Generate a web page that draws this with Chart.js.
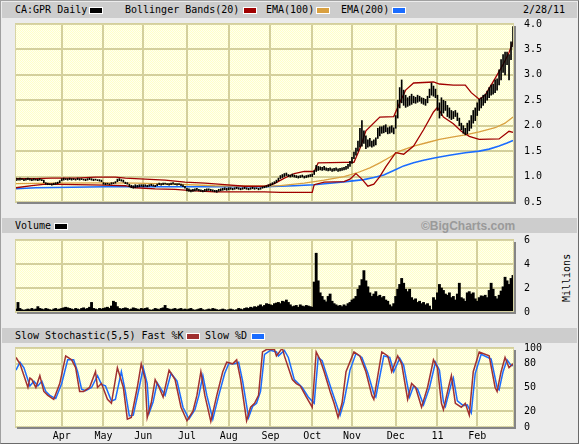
<!DOCTYPE html>
<html><head><meta charset="utf-8">
<script src="https://cdn.jsdelivr.net/npm/chart.js@4/dist/chart.umd.min.js"></script>
<style>
html,body{margin:0;padding:0;background:#ececec;}
#wrap{position:relative;width:579px;height:444px;background:#ececec;box-sizing:border-box;border:1px solid #a0a0a0;border-right-color:#6a6a6a;border-bottom-color:#6a6a6a;overflow:hidden;font-family:"DejaVu Sans Mono",monospace;font-size:10px;color:#000;}
.bar{position:absolute;left:1px;width:575px;background:#cdcdcd;}
.t{position:absolute;white-space:pre;line-height:12px;}
.sw{position:absolute;width:12px;height:5px;outline:1px solid #fff;}
canvas{position:absolute;left:-1px;}
</style></head>
<body><div id="wrap">
<div class="bar" style="top:1px;height:16px"></div>
<div class="bar" style="top:217px;height:15px"></div>
<div class="bar" style="top:327px;height:15px"></div>

<div class="t" style="left:14px;top:3px">CA:GPR Daily</div>
<div class="sw" style="left:89px;top:7px;background:#000"></div>
<div class="t" style="left:124px;top:3px">Bollinger Bands(20)</div>
<div class="sw" style="left:243px;top:7px;background:#a00000"></div>
<div class="t" style="left:265px;top:3px">EMA(100)</div>
<div class="sw" style="left:316px;top:7px;background:#d9a040"></div>
<div class="t" style="left:340px;top:3px">EMA(200)</div>
<div class="sw" style="left:392px;top:7px;background:#1a6cff"></div>
<div class="t" style="left:522px;top:3px">2/28/11</div>

<div class="t" style="left:14px;top:219px">Volume</div>
<div class="sw" style="left:54px;top:223px;background:#000"></div>
<div class="t" style="left:420px;top:218px;width:94px;text-align:right;font-family:'Liberation Sans',Arial,sans-serif;font-weight:bold;font-size:12px;color:#9a9a9a;line-height:14px">©BigCharts.com</div>

<div class="t" style="left:14px;top:329px">Slow Stochastic(5,5) Fast %K</div>
<div class="sw" style="left:186px;top:333px;background:#a03030"></div>
<div class="t" style="left:204px;top:329px">Slow %D</div>
<div class="sw" style="left:251px;top:333px;background:#1a6cff"></div>

<div class="t" style="left:542px;top:271px;transform:rotate(-90deg);transform-origin:24px 6px;width:48px">Millions</div>

<canvas id="c1" width="579" height="218" style="top:-1px"></canvas>
<canvas id="c2" width="579" height="110" style="top:217px"></canvas>
<canvas id="c3" width="579" height="116" style="top:327px"></canvas>
</div>
<script>
// ---- axis labels (trading-day index of each month start, Mar 1 2010 = 0) ----
const monthIdx = [23,44,64,86,107,128,149,169,191,212,232];
const monthLbl = ['Apr','May','Jun','Jul','Aug','Sep','Oct','Nov','Dec','11','Feb'];
const priceTicks = [0.5,1.0,1.5,2.0,2.5,3.0,3.5,4.0];
const volTicks = [0,2,4,6];
const stochTicks = [0,20,50,80,100];

// ---- daily price lows / highs ----
const priceLow = [
 .92,.93,.93,.94,.92,.93,.94,.93,.92,.93,.93,.92,.93,.92,.88,.85,.84,.84,.83,.84,.85,.86,.88,
 .92,.93,.94,.93,.94,.93,.94,.93,.94,.93,.94,.93,.92,.93,.94,.93,.92,.93,.92,.91,.90,
 .85,.84,.85,.84,.85,.86,.87,.90,.92,.91,.89,.86,.85,.80,.78,.77,.78,.79,.80,.81,
 .80,.81,.80,.81,.82,.81,.80,.82,.84,.83,.84,.85,.84,.83,.84,.85,.84,.83,.84,.82,.80,.77,
 .72,.71,.70,.71,.72,.73,.72,.71,.70,.71,.72,.73,.72,.71,.70,.69,.71,.72,.73,.74,.73,
 .74,.75,.74,.75,.76,.75,.74,.75,.76,.75,.74,.75,.76,.75,.76,.74,.75,.77,.78,.79,.80,
 .82,.84,.86,.88,.92,.96,.98,1.00,1.02,1.00,.99,1.00,.99,.98,.97,.98,.99,.97,.98,.99,1.00,
 1.00,1.04,1.10,1.12,1.13,1.12,1.13,1.12,1.11,1.12,1.10,1.11,1.12,1.10,1.11,1.12,1.13,1.14,1.16,1.20,
 1.26,1.35,1.42,1.50,1.58,1.60,1.65,1.55,1.58,1.60,1.58,1.60,1.62,1.75,1.80,1.85,1.86,1.88,1.84,1.85,1.87,1.84,
 1.95,2.15,2.35,2.45,2.40,2.36,2.38,2.40,2.42,2.45,2.44,2.46,2.48,2.44,2.42,2.40,2.45,2.55,2.60,2.58,2.55,
 2.30,2.15,2.20,2.25,2.30,2.18,2.15,2.12,2.14,2.18,2.10,2.00,1.92,1.85,1.82,1.84,1.90,1.95,2.05,2.10,
 2.20,2.30,2.35,2.40,2.45,2.50,2.55,2.60,2.62,2.65,2.70,2.80,2.90,3.05,3.00,3.20,2.90,3.30,3.55
];
const priceHigh = [
 .97,.96,.97,.96,.95,.96,.97,.96,.95,.96,.95,.95,.96,.94,.93,.88,.87,.86,.86,.87,.88,.89,.92,
 .96,.97,.96,.96,.97,.96,.96,.95,.97,.96,.96,.95,.95,.96,.97,.96,.95,.95,.94,.94,.93,
 .88,.87,.87,.86,.88,.88,.90,.95,.96,.94,.93,.89,.88,.85,.83,.82,.84,.83,.84,.84,
 .84,.84,.83,.84,.85,.84,.83,.85,.87,.86,.87,.87,.86,.86,.87,.88,.86,.86,.86,.85,.84,.81,
 .77,.76,.74,.75,.76,.77,.75,.74,.73,.75,.76,.76,.75,.74,.73,.73,.75,.76,.77,.78,.77,
 .78,.78,.77,.78,.79,.78,.77,.78,.79,.78,.77,.78,.79,.78,.78,.77,.78,.80,.81,.82,.84,
 .86,.88,.90,.93,.97,1.02,1.04,1.06,1.07,1.04,1.03,1.05,1.03,1.02,1.01,1.02,1.03,1.01,1.02,1.03,1.04,
 1.05,1.12,1.22,1.20,1.19,1.18,1.20,1.17,1.16,1.17,1.15,1.16,1.17,1.15,1.16,1.17,1.18,1.20,1.24,1.30,
 1.38,1.48,1.56,1.70,1.95,2.10,1.90,1.80,1.72,1.75,1.70,1.72,1.76,1.95,1.98,1.98,2.00,2.02,1.96,1.98,2.00,1.96,
 2.20,2.50,2.75,2.90,2.70,2.60,2.55,2.58,2.62,2.58,2.56,2.60,2.58,2.55,2.54,2.52,2.58,2.72,2.84,2.78,2.72,
 2.60,2.45,2.55,2.50,2.48,2.40,2.35,2.30,2.28,2.30,2.25,2.15,2.05,2.00,1.95,2.05,2.10,2.20,2.30,2.35,
 2.45,2.52,2.55,2.60,2.62,2.68,2.75,2.80,2.82,2.90,2.92,3.10,3.30,3.40,3.45,3.45,3.40,3.65,3.95
];

// ---- overlays [day index, value] ----
const bbUpper = [[0,0.96],[10,0.96],[18,0.97],[30,0.97],[40,0.99],[50,0.99],[55,0.97],[65,0.95],[75,0.93],[85,0.89],[95,0.87],[105,0.84],[115,0.81],[125,0.81],[130,0.86],[135,0.97],[140,1.06],[145,1.10],[150,1.10],[152,1.27],[165,1.28],[170,1.28],[173,1.55],[176,1.90],[183,2.17],[190,2.18],[193,2.45],[196,2.70],[200,2.84],[210,2.86],[213,2.82],[220,2.80],[226,2.80],[229,2.65],[233,2.52],[236,2.60],[241,2.93],[245,3.20],[248,3.44],[250,3.65]];
const bbLower = [[0,0.78],[8,0.82],[15,0.85],[30,0.84],[45,0.83],[55,0.82],[60,0.78],[70,0.76],[80,0.75],[90,0.72],[100,0.70],[110,0.70],[125,0.70],[133,0.69],[149,0.69],[150,0.84],[155,0.89],[165,0.90],[168,0.95],[171,1.06],[174,0.95],[177,0.81],[180,0.85],[183,1.00],[186,1.19],[191,1.47],[195,1.44],[200,1.60],[205,1.92],[210,2.27],[212,2.36],[215,2.17],[220,2.04],[224,1.89],[228,1.79],[233,1.73],[243,1.74],[248,1.89],[250,1.87]];
const ema100 = [[0,0.86],[20,0.87],[45,0.875],[60,0.87],[80,0.85],[100,0.82],[125,0.81],[133,0.82],[145,0.87],[155,0.93],[165,1.00],[172,1.08],[178,1.17],[183,1.27],[188,1.38],[193,1.50],[200,1.60],[207,1.67],[213,1.73],[220,1.78],[226,1.82],[233,1.88],[241,1.96],[246,2.05],[250,2.17]];
const ema200 = [[0,0.76],[10,0.78],[28,0.79],[45,0.80],[73,0.80],[125,0.80],[140,0.82],[150,0.84],[158,0.87],[166,0.90],[175,0.94],[180,0.98],[185,1.03],[190,1.12],[195,1.21],[200,1.27],[205,1.32],[211,1.37],[218,1.42],[226,1.47],[233,1.50],[238,1.54],[243,1.60],[247,1.66],[250,1.71]];

// ---- daily volume (millions) ----
const volume = [
 0.25,0.8,0.3,0.2,0.15,0.2,0.25,0.2,0.3,0.2,0.25,0.45,0.3,0.25,0.2,0.3,0.25,0.2,0.15,0.25,0.3,0.2,0.25,
 0.3,0.35,0.4,0.35,0.3,0.25,0.2,0.3,0.25,0.2,0.3,0.35,0.25,0.3,0.4,0.8,0.3,0.25,0.2,0.3,0.25,
 0.3,0.35,0.4,0.3,0.5,0.9,0.8,0.45,0.3,0.25,0.3,0.35,0.3,0.2,0.25,0.35,0.3,0.25,0.2,0.3,
 0.25,0.3,0.35,0.2,0.15,0.2,0.3,0.25,0.2,0.3,0.35,0.55,0.3,0.25,0.2,0.25,0.3,0.2,0.25,0.3,0.2,0.25,
 0.2,0.25,0.3,0.2,0.15,0.2,0.25,0.3,0.2,0.15,0.2,0.25,0.2,0.3,0.25,0.2,0.15,0.2,0.25,0.2,0.15,
 0.2,0.25,0.2,0.15,0.2,0.3,0.25,0.2,0.3,0.35,0.3,0.4,0.35,0.45,0.4,0.5,0.6,0.45,0.55,0.7,0.65,
 0.6,0.55,0.7,0.75,0.8,0.7,0.9,0.85,1.0,0.8,0.6,0.45,0.5,0.55,0.4,0.6,0.5,0.45,0.55,0.5,0.45,
 0.4,2.5,4.9,2.6,1.6,1.3,1.0,0.85,1.3,1.5,0.9,0.7,0.6,0.5,0.55,0.45,0.6,0.5,0.7,0.8,
 1.0,1.1,1.3,1.9,2.2,2.7,3.45,2.6,2.1,1.6,1.3,1.5,1.7,1.3,1.4,1.2,1.3,1.0,0.9,0.6,0.45,0.7,
 1.3,1.9,2.3,2.8,2.4,1.9,1.7,1.9,1.2,1.0,1.1,0.8,0.9,0.7,0.8,0.6,0.7,0.5,0.2,1.2,1.0,
 1.6,2.3,2.0,1.8,1.5,1.4,1.6,1.2,1.3,1.0,1.5,2.4,1.2,1.1,0.9,1.6,1.7,1.5,1.6,1.1,
 0.9,1.2,1.35,1.3,1.4,1.2,1.8,2.4,1.9,1.3,1.1,1.4,1.75,2.1,2.9,2.6,2.3,2.8,3.05
];

// ---- slow stochastic [day index, value] ----
const fastK = [[0,88],[2,80],[6,50],[7,62],[8,60],[10,50],[12,65],[14,45],[16,40],[19,35],[22,55],[25,90],[28,85],[30,75],[32,45],[34,45],[37,50],[40,70],[41,50],[43,55],[46,35],[48,30],[51,75],[54,50],[56,10],[58,12],[61,50],[63,80],[65,60],[66,12],[68,30],[70,60],[72,50],[74,38],[77,72],[80,60],[83,25],[86,8],[89,20],[91,40],[93,70],[95,40],[98,7],[101,40],[104,70],[106,82],[109,80],[111,85],[113,60],[116,8],[118,25],[120,30],[122,40],[124,95],[126,98],[130,98],[131,90],[134,100],[135,90],[139,60],[141,55],[143,52],[146,38],[149,25],[151,95],[153,85],[155,70],[158,45],[160,30],[162,12],[164,30],[166,70],[170,95],[173,90],[176,70],[179,40],[180,35],[184,95],[187,90],[189,70],[192,90],[194,80],[197,35],[199,55],[201,50],[204,25],[207,50],[210,85],[212,75],[214,30],[215,22],[218,55],[219,65],[221,30],[224,25],[226,30],[228,15],[230,70],[233,95],[238,90],[241,50],[242,45],[244,70],[246,88],[248,75],[250,80]];
const slowD = [[0,72],[2,82],[4,75],[7,52],[9,58],[11,52],[13,58],[15,45],[17,40],[20,36],[23,55],[26,85],[29,85],[31,70],[33,48],[35,46],[38,50],[41,65],[43,54],[45,52],[48,33],[50,35],[53,70],[55,45],[57,14],[59,15],[62,50],[64,75],[66,55],[67,18],[69,32],[71,56],[73,48],[75,40],[78,68],[81,58],[84,25],[87,10],[90,22],[92,40],[94,65],[96,40],[99,10],[102,40],[105,68],[107,80],[110,80],[112,82],[114,58],[117,12],[119,26],[121,30],[123,45],[125,92],[128,97],[131,95],[132,90],[135,97],[137,88],[140,60],[142,55],[144,50],[147,38],[150,30],[152,88],[154,84],[156,68],[159,45],[161,30],[163,15],[165,32],[168,72],[171,93],[174,88],[177,68],[180,42],[181,38],[185,90],[188,88],[190,70],[193,87],[195,78],[198,38],[200,52],[202,48],[205,28],[208,50],[211,82],[213,72],[215,32],[216,26],[219,55],[220,62],[222,33],[225,27],[227,28],[229,18],[231,68],[234,92],[239,86],[242,50],[243,47],[245,70],[247,85],[249,78],[250,78]];

// ---- styling ----
const FONT = {family:'"DejaVu Sans Mono", monospace', size:10};
const GRID = '#d4d09c';
const pc = document.createElement('canvas'); pc.width = 2; pc.height = 2;
const pctx = pc.getContext('2d');
pctx.fillStyle = '#ffffc8'; pctx.fillRect(0,0,2,2);
pctx.fillStyle = '#fffff0'; pctx.fillRect(1,0,1,1); pctx.fillRect(0,1,1,1);

const plotFrame = {
  id:'plotFrame',
  beforeDraw(chart){
    const {ctx, chartArea:a} = chart;
    ctx.save();
    ctx.fillStyle = ctx.createPattern(pc,'repeat');
    ctx.fillRect(a.left, a.top, a.right-a.left, a.bottom-a.top);
    ctx.restore();
  },
  afterDraw(chart){
    const {ctx, chartArea:a} = chart;
    ctx.save();
    ctx.strokeStyle = '#d8d4a4'; ctx.lineWidth = 1;
    ctx.strokeRect(a.left+0.5, a.top+0.5, a.right-a.left-1, a.bottom-a.top-1);
    ctx.fillStyle = '#858585';
    ctx.fillRect(a.right, a.top+2, 2, a.bottom-a.top);
    ctx.fillRect(a.left+2, a.bottom, a.right-a.left, 2);
    ctx.restore();
  }
};

function xAxis(showLabels){
  return {
    type:'linear', min:-0.5, max:250.5, offset:false,
    afterBuildTicks: s => { s.ticks = monthIdx.map(v => ({value:v})); },
    afterFit: s => { s.height = showLabels ? 17 : 0; },
    ticks:{display:showLabels, autoSkip:false, maxRotation:0, padding:3, color:'#000', font:FONT,
           callback:(v,i) => monthLbl[i]},
    grid:{color:GRID, lineWidth:2, drawTicks:false, offset:false},
    border:{display:false}
  };
}
function yAxis(min, max, ticks, fmt){
  return {
    position:'right', min:min, max:max,
    afterBuildTicks: s => { s.ticks = ticks.map(v => ({value:v})); },
    afterFit: s => { s.width = 65; },
    ticks:{padding:10, color:'#000', font:FONT, callback:fmt},
    grid:{color:GRID, lineWidth:2, drawTicks:false},
    border:{display:false}
  };
}
const common = {responsive:false, animation:false, events:[],
  plugins:{legend:{display:false}, tooltip:{enabled:false}}};
const pts = arr => arr.map(p => ({x:p[0], y:p[1]}));
const lineDs = (arr, color, w) => ({type:'line', data:pts(arr), borderColor:color, borderWidth:w,
  pointRadius:0, tension:0, fill:false, order:1});

// ---- price panel ----
new Chart(document.getElementById('c1'), {
  type:'bar',
  data:{datasets:[
    {type:'bar', data:priceLow.map((lo,i) => ({x:i, y:[lo, priceHigh[i]]})),
     backgroundColor:'#000', barThickness:1, order:0},
    lineDs(bbUpper,'#a00000',1.3),
    lineDs(bbLower,'#a00000',1.3),
    lineDs(ema100,'#d9a040',1.3),
    lineDs(ema200,'#1a6cff',1.6)
  ]},
  options:Object.assign({}, common, {
    layout:{padding:{left:15, top:24, bottom:10, right:0}},
    scales:{x:xAxis(false), y:yAxis(0.5, 4.0, priceTicks, v => v.toFixed(1))}
  }),
  plugins:[plotFrame]
});

// ---- volume panel ----
new Chart(document.getElementById('c2'), {
  type:'bar',
  data:{datasets:[
    {data:volume.map((v,i) => ({x:i, y:v})), backgroundColor:'#000', barThickness:2.2}
  ]},
  options:Object.assign({}, common, {
    layout:{padding:{left:15, top:22, bottom:11, right:0}},
    scales:{x:xAxis(false), y:yAxis(0, 6, volTicks, v => String(v))}
  }),
  plugins:[plotFrame]
});

// ---- stochastic panel ----
new Chart(document.getElementById('c3'), {
  type:'line',
  data:{datasets:[
    lineDs(fastK,'#a03030',1.5),
    lineDs(slowD,'#1a6cff',1.5)
  ]},
  options:Object.assign({}, common, {
    layout:{padding:{left:15, top:20, bottom:0, right:0}},
    scales:{x:xAxis(true), y:yAxis(0, 100, stochTicks, v => String(v))}
  }),
  plugins:[plotFrame]
});
</script>
</body></html>
